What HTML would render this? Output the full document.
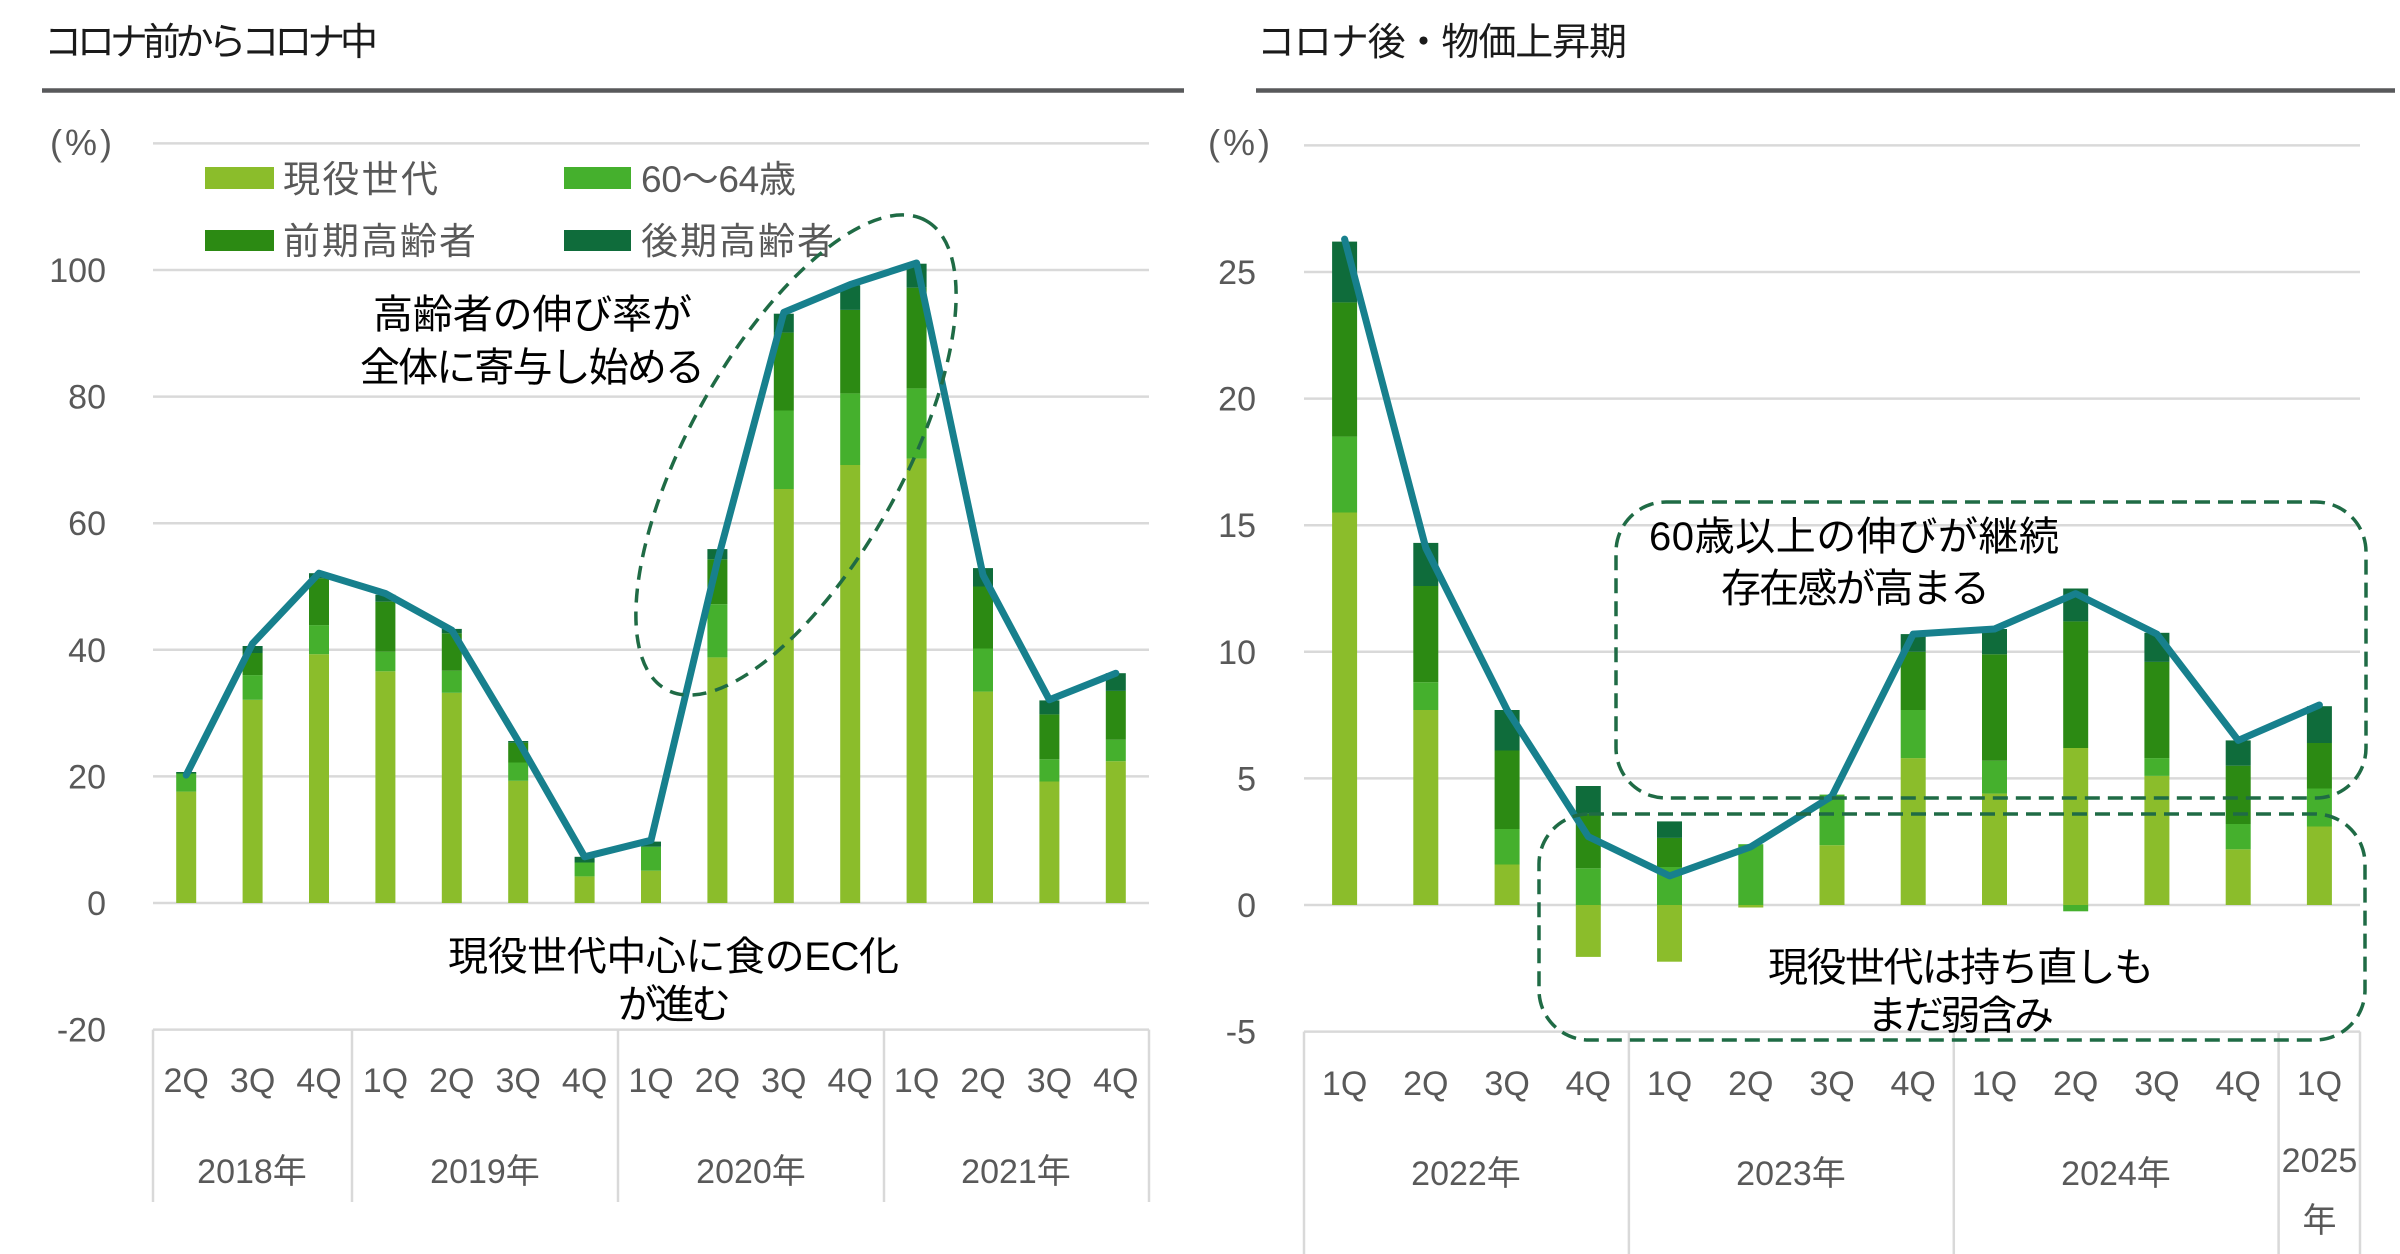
<!DOCTYPE html>
<html><head><meta charset="utf-8"><style>
html,body{margin:0;padding:0;background:#fff;}
svg{display:block;}
text{font-family:"Liberation Sans","Noto Sans CJK JP",sans-serif;}
.tk{font-size:34px;fill:#595959;}
.pc{font-size:36px;fill:#595959;letter-spacing:3px;}
.lg{font-size:37px;fill:#595959;}
.an{font-size:40px;fill:#000;}
.ti{font-size:38px;fill:#1a1a1a;}
</style></head><body>
<svg width="2400" height="1254" viewBox="0 0 2400 1254" xmlns="http://www.w3.org/2000/svg">
<rect width="2400" height="1254" fill="#fff"/>
<!-- Titles -->
<text class="ti" x="44" y="55" textLength="334">コロナ前からコロナ中</text>
<text class="ti" x="1257" y="55" textLength="370">コロナ後・物価上昇期</text>
<line x1="42" y1="90.5" x2="1184" y2="90.5" stroke="#58595b" stroke-width="4.5"/>
<line x1="1256" y1="90.5" x2="2395" y2="90.5" stroke="#58595b" stroke-width="4.5"/>

<!-- LEFT CHART -->
<g stroke="#d9d9d9" stroke-width="2.5">
<line x1="153" y1="143.4" x2="1149" y2="143.4"/>
<line x1="153" y1="270" x2="1149" y2="270"/>
<line x1="153" y1="396.6" x2="1149" y2="396.6"/>
<line x1="153" y1="523.2" x2="1149" y2="523.2"/>
<line x1="153" y1="649.8" x2="1149" y2="649.8"/>
<line x1="153" y1="776.4" x2="1149" y2="776.4"/>
<line x1="153" y1="903" x2="1149" y2="903"/>
<line x1="153" y1="1029.6" x2="1149" y2="1029.6"/>
<line x1="153" y1="1029.6" x2="153" y2="1202"/>
<line x1="352" y1="1029.6" x2="352" y2="1202"/>
<line x1="618" y1="1029.6" x2="618" y2="1202"/>
<line x1="884" y1="1029.6" x2="884" y2="1202"/>
<line x1="1149" y1="1029.6" x2="1149" y2="1202"/>
</g>
<text class="pc" x="50" y="155">(%)</text>
<g class="tk" text-anchor="end">
<text x="106" y="282">100</text>
<text x="106" y="408.6">80</text>
<text x="106" y="535.2">60</text>
<text x="106" y="661.8">40</text>
<text x="106" y="788.4">20</text>
<text x="106" y="915">0</text>
<text x="106" y="1041.6">-20</text>
</g>
<!-- legend -->
<rect x="205" y="167" width="69" height="22" fill="#8BBD2B"/>
<rect x="564" y="167" width="67" height="22" fill="#45B02D"/>
<rect x="205" y="230" width="69" height="21" fill="#2C8A13"/>
<rect x="564" y="230" width="67" height="21" fill="#0F6C3B"/>
<text class="lg" x="283" y="192" textLength="155">現役世代</text>
<text class="lg" x="641" y="192" textLength="155">60〜64歳</text>
<text class="lg" x="283" y="254" textLength="193">前期高齢者</text>
<text class="lg" x="641" y="254" textLength="193">後期高齢者</text>

<!-- left bars -->
<g>
<rect x="176.2" y="791.6" width="20" height="111.4" fill="#8BBD2B"/>
<rect x="176.2" y="773.2" width="20" height="18.4" fill="#45B02D"/>
<rect x="176.2" y="772" width="20" height="1.5" fill="#0F6C3B"/>

<rect x="242.6" y="699.8" width="20" height="203.2" fill="#8BBD2B"/>
<rect x="242.6" y="675.1" width="20" height="24.7" fill="#45B02D"/>
<rect x="242.6" y="653.0" width="20" height="22.1" fill="#2C8A13"/>
<rect x="242.6" y="646.0" width="20" height="7.0" fill="#0F6C3B"/>

<rect x="309.0" y="654.2" width="20" height="248.8" fill="#8BBD2B"/>
<rect x="309.0" y="625.1" width="20" height="29.1" fill="#45B02D"/>
<rect x="309.0" y="578.3" width="20" height="46.8" fill="#2C8A13"/>
<rect x="309.0" y="573.2" width="20" height="5.1" fill="#0F6C3B"/>

<rect x="375.4" y="671.3" width="20" height="231.7" fill="#8BBD2B"/>
<rect x="375.4" y="651.7" width="20" height="19.6" fill="#45B02D"/>
<rect x="375.4" y="601.7" width="20" height="50.0" fill="#2C8A13"/>
<rect x="375.4" y="594.7" width="20" height="7.0" fill="#0F6C3B"/>

<rect x="441.8" y="692.8" width="20" height="210.2" fill="#8BBD2B"/>
<rect x="441.8" y="670.7" width="20" height="22.1" fill="#45B02D"/>
<rect x="441.8" y="633.3" width="20" height="37.4" fill="#2C8A13"/>
<rect x="441.8" y="628.9" width="20" height="4.4" fill="#0F6C3B"/>

<rect x="508.2" y="780.8" width="20" height="122.2" fill="#8BBD2B"/>
<rect x="508.2" y="762.5" width="20" height="18.3" fill="#45B02D"/>
<rect x="508.2" y="742.8" width="20" height="19.7" fill="#2C8A13"/>
<rect x="508.2" y="741.0" width="20" height="1.8" fill="#0F6C3B"/>

<rect x="574.6" y="876.4" width="20" height="26.6" fill="#8BBD2B"/>
<rect x="574.6" y="862.5" width="20" height="13.9" fill="#45B02D"/>
<rect x="574.6" y="856.8" width="20" height="5.7" fill="#0F6C3B"/>

<rect x="641.0" y="870.7" width="20" height="32.3" fill="#8BBD2B"/>
<rect x="641.0" y="846.7" width="20" height="24.0" fill="#45B02D"/>
<rect x="641.0" y="841.6" width="20" height="5.1" fill="#0F6C3B"/>

<rect x="707.4" y="657.4" width="20" height="245.6" fill="#8BBD2B"/>
<rect x="707.4" y="604.2" width="20" height="53.2" fill="#45B02D"/>
<rect x="707.4" y="559.3" width="20" height="44.9" fill="#2C8A13"/>
<rect x="707.4" y="549.1" width="20" height="10.2" fill="#0F6C3B"/>

<rect x="773.8" y="489.0" width="20" height="414.0" fill="#8BBD2B"/>
<rect x="773.8" y="410.5" width="20" height="78.5" fill="#45B02D"/>
<rect x="773.8" y="332.6" width="20" height="77.9" fill="#2C8A13"/>
<rect x="773.8" y="313.7" width="20" height="18.9" fill="#0F6C3B"/>

<rect x="840.2" y="465.0" width="20" height="438.0" fill="#8BBD2B"/>
<rect x="840.2" y="393.4" width="20" height="71.6" fill="#45B02D"/>
<rect x="840.2" y="309.9" width="20" height="83.5" fill="#2C8A13"/>
<rect x="840.2" y="285.2" width="20" height="24.7" fill="#0F6C3B"/>

<rect x="906.6" y="458.6" width="20" height="444.4" fill="#8BBD2B"/>
<rect x="906.6" y="388.4" width="20" height="70.2" fill="#45B02D"/>
<rect x="906.6" y="287.7" width="20" height="100.7" fill="#2C8A13"/>
<rect x="906.6" y="263.7" width="20" height="24.0" fill="#0F6C3B"/>

<rect x="973.0" y="691.6" width="20" height="211.4" fill="#8BBD2B"/>
<rect x="973.0" y="648.5" width="20" height="43.1" fill="#45B02D"/>
<rect x="973.0" y="586.5" width="20" height="62.0" fill="#2C8A13"/>
<rect x="973.0" y="568.1" width="20" height="18.4" fill="#0F6C3B"/>

<rect x="1039.4" y="781.5" width="20" height="121.5" fill="#8BBD2B"/>
<rect x="1039.4" y="759.3" width="20" height="22.2" fill="#45B02D"/>
<rect x="1039.4" y="714.4" width="20" height="44.9" fill="#2C8A13"/>
<rect x="1039.4" y="700.4" width="20" height="14.0" fill="#0F6C3B"/>

<rect x="1105.8" y="761.2" width="20" height="141.8" fill="#8BBD2B"/>
<rect x="1105.8" y="739.7" width="20" height="21.5" fill="#45B02D"/>
<rect x="1105.8" y="690.9" width="20" height="48.8" fill="#2C8A13"/>
<rect x="1105.8" y="673.2" width="20" height="17.7" fill="#0F6C3B"/>
</g>
<polyline fill="none" stroke="#17808D" stroke-width="7" stroke-linejoin="round" stroke-linecap="round"
 points="186.2,775.1 252.6,643.5 319.0,573.2 385.4,593.5 451.8,630.2 518.2,741.0 584.6,856.8 651.0,840.3 717.4,561.2 783.8,312.4 850.2,284.6 916.6,263.0 983.0,575.1 1049.4,699.8 1115.8,673.2"/>
<ellipse cx="796" cy="455" rx="268" ry="107" transform="rotate(-61 796 455)" fill="none" stroke="#1F6B45" stroke-width="3.5" stroke-dasharray="14 9"/>
<text class="an" x="373" y="328" textLength="319">高齢者の伸び率が</text>
<text class="an" x="360" y="381" textLength="345">全体に寄与し始める</text>
<text class="an" x="448" y="970" textLength="451">現役世代中心に食のEC化</text>
<text class="an" x="618" y="1018" textLength="113">が進む</text>
<!-- left category labels -->
<g class="tk" text-anchor="middle">
<text x="186.2" y="1092">2Q</text>
<text x="252.6" y="1092">3Q</text>
<text x="319.0" y="1092">4Q</text>
<text x="385.4" y="1092">1Q</text>
<text x="451.8" y="1092">2Q</text>
<text x="518.2" y="1092">3Q</text>
<text x="584.6" y="1092">4Q</text>
<text x="651.0" y="1092">1Q</text>
<text x="717.4" y="1092">2Q</text>
<text x="783.8" y="1092">3Q</text>
<text x="850.2" y="1092">4Q</text>
<text x="916.6" y="1092">1Q</text>
<text x="983.0" y="1092">2Q</text>
<text x="1049.4" y="1092">3Q</text>
<text x="1115.8" y="1092">4Q</text>
<text x="252" y="1183">2018年</text>
<text x="485" y="1183">2019年</text>
<text x="751" y="1183">2020年</text>
<text x="1016" y="1183">2021年</text>
</g>

<!-- RIGHT CHART -->
<g stroke="#d9d9d9" stroke-width="2.5">
<line x1="1304" y1="145.4" x2="2360" y2="145.4"/>
<line x1="1304" y1="272" x2="2360" y2="272"/>
<line x1="1304" y1="398.6" x2="2360" y2="398.6"/>
<line x1="1304" y1="525.2" x2="2360" y2="525.2"/>
<line x1="1304" y1="651.8" x2="2360" y2="651.8"/>
<line x1="1304" y1="778.4" x2="2360" y2="778.4"/>
<line x1="1304" y1="905" x2="2360" y2="905"/>
<line x1="1304" y1="1031.6" x2="2360" y2="1031.6"/>
<line x1="1304" y1="1031.6" x2="1304" y2="1254"/>
<line x1="1628.9" y1="1031.6" x2="1628.9" y2="1254"/>
<line x1="1953.8" y1="1031.6" x2="1953.8" y2="1254"/>
<line x1="2278.6" y1="1031.6" x2="2278.6" y2="1254"/>
<line x1="2360" y1="1031.6" x2="2360" y2="1254"/>
</g>
<text class="pc" x="1208" y="155">(%)</text>
<g class="tk" text-anchor="end">
<text x="1256" y="284">25</text>
<text x="1256" y="410.6">20</text>
<text x="1256" y="537.2">15</text>
<text x="1256" y="663.8">10</text>
<text x="1256" y="790.4">5</text>
<text x="1256" y="917">0</text>
<text x="1256" y="1043.6">-5</text>
</g>
<g>
<rect x="1332.1" y="512.5" width="25" height="392.5" fill="#8BBD2B"/>
<rect x="1332.1" y="436.6" width="25" height="75.9" fill="#45B02D"/>
<rect x="1332.1" y="302.4" width="25" height="134.2" fill="#2C8A13"/>
<rect x="1332.1" y="241.6" width="25" height="60.8" fill="#0F6C3B"/>

<rect x="1413.3" y="710.0" width="25" height="195.0" fill="#8BBD2B"/>
<rect x="1413.3" y="682.2" width="25" height="27.8" fill="#45B02D"/>
<rect x="1413.3" y="586.0" width="25" height="96.2" fill="#2C8A13"/>
<rect x="1413.3" y="542.9" width="25" height="43.1" fill="#0F6C3B"/>

<rect x="1494.6" y="864.5" width="25" height="40.5" fill="#8BBD2B"/>
<rect x="1494.6" y="829.0" width="25" height="35.5" fill="#45B02D"/>
<rect x="1494.6" y="750.5" width="25" height="78.5" fill="#2C8A13"/>
<rect x="1494.6" y="710.0" width="25" height="40.5" fill="#0F6C3B"/>

<rect x="1575.8" y="905" width="25" height="51.9" fill="#8BBD2B"/>
<rect x="1575.8" y="868.3" width="25" height="36.7" fill="#45B02D"/>
<rect x="1575.8" y="813.8" width="25" height="54.5" fill="#2C8A13"/>
<rect x="1575.8" y="786.0" width="25" height="27.8" fill="#0F6C3B"/>

<rect x="1657.0" y="905" width="25" height="56.7" fill="#8BBD2B"/>
<rect x="1657.0" y="867.0" width="25" height="38.0" fill="#45B02D"/>
<rect x="1657.0" y="837.9" width="25" height="29.1" fill="#2C8A13"/>
<rect x="1657.0" y="821.4" width="25" height="16.5" fill="#0F6C3B"/>

<rect x="1738.3" y="905" width="25" height="2.5" fill="#8BBD2B"/>
<rect x="1738.3" y="844.2" width="25" height="60.8" fill="#45B02D"/>

<rect x="1819.5" y="845.2" width="25" height="59.8" fill="#8BBD2B"/>
<rect x="1819.5" y="794.6" width="25" height="50.6" fill="#45B02D"/>

<rect x="1900.7" y="758.1" width="25" height="146.9" fill="#8BBD2B"/>
<rect x="1900.7" y="710.0" width="25" height="48.1" fill="#45B02D"/>
<rect x="1900.7" y="651.8" width="25" height="58.2" fill="#2C8A13"/>
<rect x="1900.7" y="634.1" width="25" height="17.7" fill="#0F6C3B"/>

<rect x="1982.0" y="793.6" width="25" height="111.4" fill="#8BBD2B"/>
<rect x="1982.0" y="760.7" width="25" height="32.9" fill="#45B02D"/>
<rect x="1982.0" y="654.3" width="25" height="106.4" fill="#2C8A13"/>
<rect x="1982.0" y="629.0" width="25" height="25.3" fill="#0F6C3B"/>

<rect x="2063.2" y="748.0" width="25" height="157.0" fill="#8BBD2B"/>
<rect x="2063.2" y="905" width="25" height="6.3" fill="#45B02D"/>
<rect x="2063.2" y="621.4" width="25" height="126.6" fill="#2C8A13"/>
<rect x="2063.2" y="588.5" width="25" height="32.9" fill="#0F6C3B"/>

<rect x="2144.4" y="775.9" width="25" height="129.1" fill="#8BBD2B"/>
<rect x="2144.4" y="758.1" width="25" height="17.8" fill="#45B02D"/>
<rect x="2144.4" y="661.9" width="25" height="96.2" fill="#2C8A13"/>
<rect x="2144.4" y="632.8" width="25" height="29.1" fill="#0F6C3B"/>

<rect x="2225.7" y="849.3" width="25" height="55.7" fill="#8BBD2B"/>
<rect x="2225.7" y="824.0" width="25" height="25.3" fill="#45B02D"/>
<rect x="2225.7" y="765.7" width="25" height="58.3" fill="#2C8A13"/>
<rect x="2225.7" y="740.4" width="25" height="25.3" fill="#0F6C3B"/>

<rect x="2306.9" y="826.5" width="25" height="78.5" fill="#8BBD2B"/>
<rect x="2306.9" y="788.5" width="25" height="38.0" fill="#45B02D"/>
<rect x="2306.9" y="743.0" width="25" height="45.5" fill="#2C8A13"/>
<rect x="2306.9" y="706.2" width="25" height="36.8" fill="#0F6C3B"/>
</g>
<polyline fill="none" stroke="#17808D" stroke-width="7" stroke-linejoin="round" stroke-linecap="round"
 points="1344.6,239.1 1425.8,548.0 1507.1,710.0 1588.3,836.6 1669.5,875.9 1750.8,846.8 1832.0,796.1 1913.2,634.1 1994.5,629.0 2075.7,593.6 2156.9,634.1 2238.2,740.4 2319.4,705.0"/>
<rect x="1616" y="502" width="750" height="296" rx="50" ry="50" fill="none" stroke="#1F6B45" stroke-width="3.5" stroke-dasharray="15 8"/>
<rect x="1539" y="814" width="826" height="226" rx="50" ry="50" fill="none" stroke="#1F6B45" stroke-width="3.5" stroke-dasharray="15 8"/>
<text class="an" x="1649" y="550" textLength="410">60歳以上の伸びが継続</text>
<text class="an" x="1721" y="602" textLength="269">存在感が高まる</text>
<text class="an" x="1768" y="981" textLength="386">現役世代は持ち直しも</text>
<text class="an" x="1867" y="1029" textLength="187">まだ弱含み</text>
<g class="tk" text-anchor="middle">
<text x="1344.6" y="1095">1Q</text>
<text x="1425.8" y="1095">2Q</text>
<text x="1507.1" y="1095">3Q</text>
<text x="1588.3" y="1095">4Q</text>
<text x="1669.5" y="1095">1Q</text>
<text x="1750.8" y="1095">2Q</text>
<text x="1832.0" y="1095">3Q</text>
<text x="1913.2" y="1095">4Q</text>
<text x="1994.5" y="1095">1Q</text>
<text x="2075.7" y="1095">2Q</text>
<text x="2156.9" y="1095">3Q</text>
<text x="2238.2" y="1095">4Q</text>
<text x="2319.4" y="1095">1Q</text>
<text x="1466" y="1185">2022年</text>
<text x="1791" y="1185">2023年</text>
<text x="2116" y="1185">2024年</text>
<text x="2319.5" y="1172">2025</text>
<text x="2319.5" y="1232">年</text>
</g>
</svg>
</body></html>
